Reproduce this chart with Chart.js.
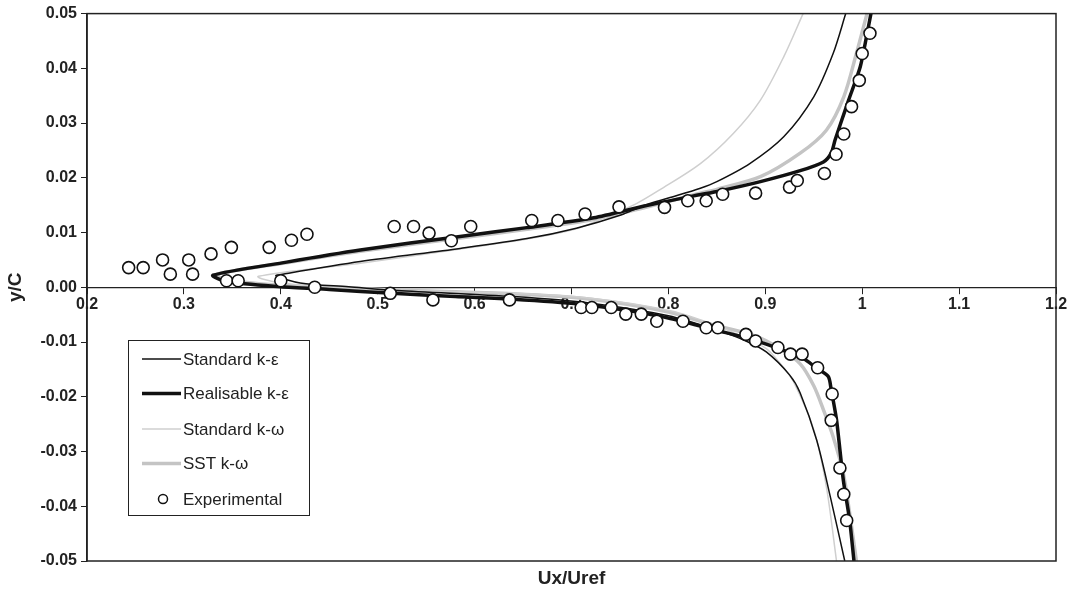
<!DOCTYPE html>
<html>
<head>
<meta charset="utf-8">
<script src="https://cdn.jsdelivr.net/npm/chart.js@4/dist/chart.umd.min.js"></script>
<style>
  html, body { margin: 0; padding: 0; background: #fff; }
  #wrap { width: 1072px; height: 593px; position: relative; }
</style>
</head>
<body>
<div id="wrap"><canvas id="c" width="1072" height="593"></canvas></div>
<script>
// ---- Data ----
const xTicks = [0.2, 0.3, 0.4, 0.5, 0.6, 0.7, 0.8, 0.9, 1.0, 1.1, 1.2];
const yTicks = [-0.05, -0.04, -0.03, -0.02, -0.01, 0.0, 0.01, 0.02, 0.03, 0.04, 0.05];
const seriesNames = ['Standard k-\u03b5', 'Realisable k-\u03b5', 'Standard k-\u03c9', 'SST k-\u03c9', 'Experimental'];

const expX = [0.243,0.258,0.278,0.286,0.305,0.309,0.328,0.349,0.388,0.411,0.427,0.517,0.537,0.553,0.576,0.596,0.659,0.686,0.714,0.749,0.796,0.820,0.839,0.856,0.890,0.925,0.933,0.961,0.973,0.981,0.989,0.997,1.000,1.008,
  0.344,0.356,0.400,0.435,0.513,0.557,0.636,0.710,0.721,0.741,0.756,0.772,0.788,0.815,0.839,0.851,0.880,0.890,0.913,0.926,0.938,0.954,0.969,0.968,0.977,0.981,0.984];
const expY = [0.0036,0.0036,0.0050,0.0024,0.0050,0.0024,0.0061,0.0073,0.0073,0.0086,0.0097,0.0111,0.0111,0.0099,0.0085,0.0111,0.0122,0.0122,0.0134,0.0147,0.0146,0.0158,0.0158,0.0170,0.0172,0.0183,0.0195,0.0208,0.0243,0.0280,0.0330,0.0378,0.0427,0.0464,
  0.0012,0.0012,0.0012,0.0000,-0.0011,-0.0023,-0.0023,-0.0037,-0.0037,-0.0037,-0.0049,-0.0049,-0.0062,-0.0062,-0.0074,-0.0074,-0.0086,-0.0098,-0.0110,-0.0122,-0.0122,-0.0147,-0.0195,-0.0243,-0.0330,-0.0378,-0.0426];

const reX = [1.009,1.005,0.998,0.986,0.972,0.968,0.960,0.936,0.895,0.853,0.826,0.774,0.723,0.654,0.585,0.482,0.406,0.330,0.345,0.400,0.450,0.515,0.580,0.640,0.709,0.760,0.802,0.853,0.888,0.939,0.953,0.965,0.968,0.9735,0.9805,0.987,0.9915];
const reY = [0.0500,0.0463,0.0403,0.0342,0.0269,0.0245,0.0229,0.0213,0.0193,0.0176,0.0167,0.0148,0.0127,0.0109,0.0093,0.0068,0.0046,0.0022,0.0010,0.0001,-0.0004,-0.0011,-0.0017,-0.0022,-0.0031,-0.0043,-0.0057,-0.0080,-0.0096,-0.0130,-0.0148,-0.0163,-0.0187,-0.0242,-0.0352,-0.0425,-0.0500];

const sstX = [1.005,0.994,0.981,0.963,0.936,0.895,0.850,0.833,0.774,0.723,0.654,0.585,0.482,0.406,0.333,0.350,0.400,0.520,0.640,0.720,0.800,0.840,0.888,0.915,0.936,0.950,0.960,0.970,0.9805,0.987,0.994];
const sstY = [0.0500,0.0427,0.0348,0.0287,0.0245,0.0202,0.0179,0.0172,0.0145,0.0124,0.0106,0.0090,0.0066,0.0045,0.0023,0.0012,0.0004,-0.0005,-0.0012,-0.0022,-0.0045,-0.0066,-0.0088,-0.0112,-0.0140,-0.0180,-0.0224,-0.0273,-0.0340,-0.0412,-0.0500];

const skeX = [0.983,0.970,0.950,0.919,0.884,0.850,0.833,0.800,0.774,0.751,0.705,0.654,0.585,0.482,0.402,0.395,0.420,0.470,0.520,0.640,0.720,0.800,0.853,0.880,0.901,0.925,0.936,0.953,0.967,0.982];
const skeY = [0.0500,0.0427,0.0348,0.0275,0.0226,0.0193,0.0181,0.0163,0.0149,0.0132,0.0108,0.0089,0.0071,0.0047,0.0024,0.0021,0.0008,0.0001,-0.0006,-0.0017,-0.0029,-0.0052,-0.0080,-0.0098,-0.0118,-0.0160,-0.0193,-0.0279,-0.0382,-0.0500];

const skwX = [0.939,0.919,0.895,0.867,0.833,0.791,0.767,0.735,0.705,0.654,0.585,0.482,0.377,0.400,0.450,0.520,0.640,0.720,0.800,0.839,0.870,0.901,0.918,0.929,0.950,0.963,0.9735];
const skwY = [0.0500,0.0421,0.0342,0.0281,0.0226,0.0178,0.0153,0.0128,0.0107,0.0088,0.0070,0.0044,0.0020,0.0008,0.0001,-0.0005,-0.0011,-0.0020,-0.0042,-0.0063,-0.0085,-0.0112,-0.0145,-0.0172,-0.0260,-0.0364,-0.0500];

const toPts = (xs, ys) => xs.map((x, i) => ({x: x, y: ys[i]}));

const FONT = '"Liberation Sans", Arial, Helvetica, sans-serif';

const datasets = [
  { label: seriesNames[0], data: toPts(skeX, skeY), showLine: true, borderColor: '#111', borderWidth: 1.5, pointRadius: 0, tension: 0.3, order: 2 },
  { label: seriesNames[1], data: toPts(reX, reY), showLine: true, borderColor: '#111', borderWidth: 3.5, pointRadius: 0, tension: 0.25, order: 1 },
  { label: seriesNames[2], data: toPts(skwX, skwY), showLine: true, borderColor: '#cfcfcf', borderWidth: 1.5, pointRadius: 0, tension: 0.3, order: 3 },
  { label: seriesNames[3], data: toPts(sstX, sstY), showLine: true, borderColor: '#c4c4c4', borderWidth: 3.5, pointRadius: 0, tension: 0.3, order: 4 },
  { label: seriesNames[4], data: toPts(expX, expY), showLine: false, pointStyle: 'circle', pointRadius: 6, pointBorderWidth: 1.6, pointBackgroundColor: '#fff', pointBorderColor: '#111', borderColor: '#111', backgroundColor: '#fff', order: 0 }
];

const frame = {
  id: 'frame',
  afterDatasetsDraw(chart) {
    const {ctx, chartArea: a} = chart;
    ctx.save();
    ctx.strokeStyle = '#222';
    ctx.lineWidth = 1.5;
    ctx.strokeRect(a.left, a.top, a.right - a.left, a.bottom - a.top);
    ctx.restore();
  }
};

const boxLegend = {
  id: 'boxLegend',
  afterDraw(chart) {
    const ctx = chart.ctx;
    const bx = 128.5, by = 340.5, bw = 181, bh = 175;
    const rows = [359, 393.5, 429, 463.5, 499];
    ctx.save();
    ctx.fillStyle = '#fff';
    ctx.fillRect(bx, by, bw, bh);
    ctx.strokeStyle = '#222';
    ctx.lineWidth = 1;
    ctx.strokeRect(bx, by, bw, bh);
    ctx.font = '17px ' + FONT;
    ctx.textBaseline = 'middle';
    ctx.textAlign = 'left';
    chart.data.datasets.forEach((ds, i) => {
      const y = rows[i];
      if (ds.showLine) {
        ctx.strokeStyle = ds.borderColor;
        ctx.lineWidth = ds.borderWidth;
        ctx.beginPath();
        ctx.moveTo(142, y);
        ctx.lineTo(181, y);
        ctx.stroke();
      } else {
        ctx.fillStyle = '#fff';
        ctx.strokeStyle = '#111';
        ctx.lineWidth = 1.5;
        ctx.beginPath();
        ctx.arc(163, y, 4.5, 0, Math.PI * 2);
        ctx.fill();
        ctx.stroke();
      }
      ctx.fillStyle = '#222';
      ctx.fillText(ds.label, 183, y + 1);
    });
    ctx.restore();
  }
};

new Chart(document.getElementById('c'), {
  type: 'scatter',
  data: { datasets: datasets },
  options: {
    responsive: false,
    animation: false,
    devicePixelRatio: 1,
    layout: { padding: { top: 13, right: 16, left: 0, bottom: 0 } },
    plugins: { legend: { display: false }, tooltip: { enabled: false }, title: { display: false } },
    scales: {
      x: {
        type: 'linear',
        position: { y: 0 },
        min: xTicks[0], max: xTicks[xTicks.length - 1],
        afterBuildTicks: (s) => { s.ticks = xTicks.map(v => ({value: v})); },
        ticks: {
          autoSkip: false, maxRotation: 0, padding: 2,
          color: '#222',
          font: { family: FONT, size: 16, weight: 'bold' },
          callback: (v) => String(+v.toFixed(1))
        },
        grid: { display: true, drawOnChartArea: false, drawTicks: true, tickLength: 6, color: '#222', lineWidth: 1 },
        border: { display: true, color: '#222', width: 1.2 }
      },
      x2: {
        type: 'linear', axis: 'x', position: 'bottom',
        min: xTicks[0], max: xTicks[xTicks.length - 1],
        ticks: { display: false },
        grid: { display: false, drawTicks: false },
        border: { display: false },
        title: { display: true, text: 'Ux/Uref', color: '#222', font: { family: FONT, size: 19, weight: 'bold' }, padding: { top: 0, bottom: 3 } },
        afterFit: (s) => { s.height = 32; }
      },
      y: {
        type: 'linear', position: 'left',
        min: yTicks[0], max: yTicks[yTicks.length - 1],
        afterBuildTicks: (s) => { s.ticks = yTicks.map(v => ({value: v})); },
        ticks: {
          autoSkip: false, padding: 4,
          color: '#222',
          font: { family: FONT, size: 16, weight: 'bold' },
          callback: (v) => (Math.abs(v) < 1e-9 ? 0 : v).toFixed(2)
        },
        grid: { display: true, drawOnChartArea: false, drawTicks: true, tickLength: 6, color: '#222', lineWidth: 1 },
        border: { display: true, color: '#222', width: 1.5 },
        title: { display: true, text: 'y/C', color: '#222', font: { family: FONT, size: 19, weight: 'bold' }, padding: { top: 4, bottom: 0 } },
        afterFit: (s) => { s.width = 87; }
      }
    }
  },
  plugins: [frame, boxLegend]
});
</script>
</body>
</html>
